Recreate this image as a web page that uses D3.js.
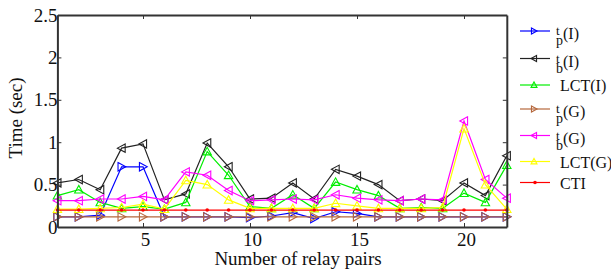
<!DOCTYPE html>
<html><head><meta charset="utf-8">
<script src="https://cdn.jsdelivr.net/npm/d3@7/dist/d3.min.js"></script>
<style>body{margin:0;background:#fff}svg{display:block}</style>
</head><body><svg id="c" width="611" height="272"></svg>
<script>
// ---- data ----
const pairs = d3.range(1, 23);
const tpI  = [0.12,0.12,0.14,0.71,0.71,0.12,0.12,0.12,0.12,0.11,0.13,0.17,0.10,0.18,0.16,0.12,0.12,0.12,0.12,0.12,0.12,0.12];
const tbI  = [0.52,0.56,0.44,0.93,0.98,0.32,0.39,0.99,0.71,0.33,0.34,0.52,0.33,0.68,0.60,0.50,0.31,0.33,0.31,0.52,0.37,0.84];
const lctI = [0.37,0.44,0.29,0.22,0.24,0.21,0.29,0.89,0.61,0.24,0.22,0.38,0.22,0.53,0.44,0.37,0.22,0.23,0.22,0.40,0.29,0.73];
const tpG  = [0.12,0.12,0.12,0.12,0.12,0.12,0.12,0.12,0.12,0.12,0.12,0.12,0.12,0.12,0.12,0.12,0.12,0.12,0.12,0.12,0.12,0.12];
const tbG  = [0.31,0.31,0.33,0.33,0.36,0.32,0.65,0.61,0.43,0.31,0.32,0.33,0.32,0.38,0.34,0.32,0.31,0.33,0.32,1.25,0.56,0.34];
const lctG = [0.21,0.21,0.22,0.23,0.27,0.21,0.55,0.50,0.32,0.22,0.22,0.22,0.22,0.28,0.25,0.22,0.22,0.22,0.23,1.16,0.50,0.21];
const cti  = [0.20,0.20,0.20,0.20,0.20,0.20,0.20,0.20,0.20,0.20,0.20,0.20,0.20,0.20,0.20,0.20,0.20,0.20,0.20,0.20,0.20,0.20];
const xTicks = [5, 10, 15, 20];
const yTicks = [0, 0.5, 1, 1.5, 2, 2.5];
const yTickLabels = ["0", "0.5", "1", "1.5", "2", "2.5"];
const xTitle = "Number of relay pairs";
const yTitle = "Time (sec)";

const series = [
  {base:"t", sub:"p", sup:"(I)", values:tpI,  color:"#0000ff", marker:"right"},
  {base:"t", sub:"b", sup:"(I)", values:tbI,  color:"#222222", marker:"left"},
  {base:"LCT(I)", values:lctI, color:"#00ee00", marker:"up"},
  {base:"t", sub:"p", sup:"(G)", values:tpG,  color:"#b5673c", marker:"right"},
  {base:"t", sub:"b", sup:"(G)", values:tbG,  color:"#ff00ff", marker:"left"},
  {base:"LCT(G)", values:lctG, color:"#ffff00", marker:"up"},
  {base:"CTI", values:cti, color:"#ff0000", marker:"dot"}
];

// ---- layout ----
const L = 57.4, R = 506.8, T = 15, B = 227;
const FONT = "'Liberation Serif','Times New Roman',serif";
const svg = d3.select("#c");
const x = d3.scaleLinear().domain([1, 22]).range([L, R]);
const y = d3.scaleLinear().domain([0, 2.5]).range([B, T]);

function markerPath(type, s) {
  if (type === "right") return `M${-s*0.85},${-s}L${s},0L${-s*0.85},${s}Z`;
  if (type === "left")  return `M${s*0.85},${-s}L${-s},0L${s*0.85},${s}Z`;
  if (type === "up")    return `M${-s},${s*0.8}L0,${-s}L${s},${s*0.8}Z`;
  return null;
}

// ---- series ----
const line = d3.line().x((d,i) => x(pairs[i])).y(d => y(d));
const plot = svg.append("g");
series.forEach(s => {
  const g = plot.append("g");
  g.append("path").attr("d", line(s.values)).attr("fill","none")
    .attr("stroke", s.color).attr("stroke-width", 1.2);
  if (s.marker === "dot") {
    g.selectAll("circle").data(s.values).join("circle")
      .attr("cx",(d,i)=>x(pairs[i])).attr("cy",d=>y(d)).attr("r",1.8).attr("fill",s.color);
  } else {
    g.selectAll("path.m").data(s.values).join("path").attr("class","m")
      .attr("transform",(d,i)=>`translate(${x(pairs[i])},${y(d)})`)
      .attr("d", markerPath(s.marker, 4.2)).attr("fill","none")
      .attr("stroke", s.color).attr("stroke-width", 1.1);
  }
});

// ---- axes ----
function styleAxis(g){
  g.select(".domain").attr("stroke","#333").attr("stroke-width",2);
  g.selectAll(".tick line").attr("stroke","#333").attr("stroke-width",1);
  g.selectAll("text").attr("font-family",FONT).attr("font-size",19).attr("fill","#111");
}
svg.append("g").attr("transform",`translate(0,${B})`)
  .call(d3.axisBottom(x).tickValues(xTicks).tickSize(-4).tickSizeOuter(0).tickPadding(6).tickFormat(d3.format("d")))
  .call(styleAxis).selectAll("text").attr("dx",2);
svg.append("g").attr("transform",`translate(0,${T})`)
  .call(d3.axisTop(x).tickValues(xTicks).tickSize(-4).tickSizeOuter(0).tickFormat(""))
  .call(styleAxis);
svg.append("g").attr("transform",`translate(${L},0)`)
  .call(d3.axisLeft(y).tickValues(yTicks).tickSize(-4).tickSizeOuter(0).tickPadding(0)
        .tickFormat((d,i)=>yTickLabels[i]))
  .call(styleAxis);
svg.append("g").attr("transform",`translate(${R},0)`)
  .call(d3.axisRight(y).tickValues(yTicks).tickSize(-4).tickSizeOuter(0).tickFormat(""))
  .call(styleAxis);

// ---- titles ----
svg.append("text").attr("x",298).attr("y",265).attr("text-anchor","middle")
  .attr("font-family",FONT).attr("font-size",19).attr("fill","#111").text(xTitle);
svg.append("text").attr("transform","translate(22,118) rotate(-90)").attr("text-anchor","middle")
  .attr("font-family",FONT).attr("font-size",19).attr("fill","#111").text(yTitle);

// ---- legend ----
const legY = [31, 58.5, 85, 109, 135.5, 161.5, 182.5];
const lg = svg.append("g");
series.forEach((s,i) => {
  const yy = legY[i];
  const g = lg.append("g").attr("transform",`translate(0,${yy})`);
  g.append("line").attr("x1",520).attr("x2",550).attr("y1",0).attr("y2",0)
    .attr("stroke",s.color).attr("stroke-width",1.2);
  if (s.marker === "dot") g.append("circle").attr("cx",535).attr("cy",0).attr("r",1.8).attr("fill",s.color);
  else g.append("path").attr("transform","translate(534,0)").attr("d",markerPath(s.marker,3))
      .attr("fill","none").attr("stroke",s.color).attr("stroke-width",1.1);
  const t = g.append("text").attr("font-family",FONT).attr("font-size",16).attr("fill","#111");
  if (s.sub) {
    t.append("tspan").attr("x",556).attr("y",4).attr("font-size",13).text(s.base);
    t.append("tspan").attr("x",556).attr("y",14).attr("font-size",14).text(s.sub);
    t.append("tspan").attr("x",563).attr("y",8).text(s.sup);
  } else {
    t.attr("x",560).attr("y",6).text(s.base);
  }
});
</script></body></html>
